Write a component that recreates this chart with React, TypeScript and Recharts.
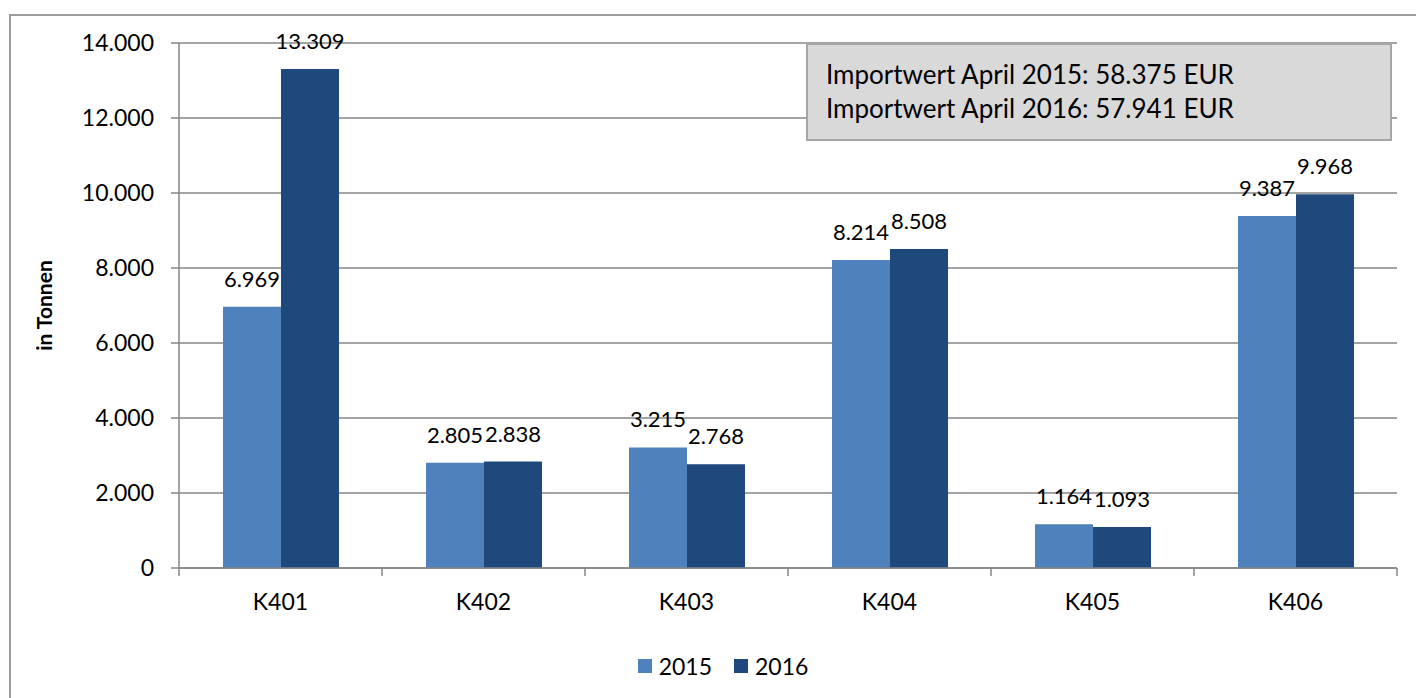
import { BarChart, Bar, XAxis, YAxis, CartesianGrid, LabelList } from 'recharts';

const CATEGORIES = ['K401', 'K402', 'K403', 'K404', 'K405', 'K406'];
const VALUES_2015 = [6969, 2805, 3215, 8214, 1164, 9387];
const VALUES_2016 = [13309, 2838, 2768, 8508, 1093, 9968];
const Y_TICKS = [0, 2000, 4000, 6000, 8000, 10000, 12000, 14000];
const SERIES = [
  { key: 'y2015', name: '2015', color: '#4F81BD' },
  { key: 'y2016', name: '2016', color: '#1F497D' },
];
const NOTE_LINES = ['Importwert April 2015: 58.375 EUR', 'Importwert April 2016: 57.941 EUR'];

const data = CATEGORIES.map((name, i) => ({ name, y2015: VALUES_2015[i], y2016: VALUES_2016[i] }));

const FONT = 'Lato, "Noto Sans", sans-serif';
const AXIS = '#868686';
const PLOT_W = 1416 - 179 - 19;

// German thousands separator: 13309 -> 13.309
function fmt(v: number): string {
  return String(v).replace(/\B(?=(\d{3})+(?!\d))/g, '.');
}

function BarValue(props: any) {
  const { x, y, width, value } = props;
  return (
    <text x={x + width / 2} y={y - 20} textAnchor="middle" fontSize={22} fill="#000" fontFamily={FONT}>
      {fmt(value)}
    </text>
  );
}

// category label plus Excel-style tick marks at the band edges
function CategoryTick(props: any) {
  const { x, y, payload, index } = props;
  const half = payload?.offset || PLOT_W / CATEGORIES.length / 2;
  const last = index === CATEGORIES.length - 1;
  return (
    <g>
      <line x1={x - half} x2={x - half} y1={y} y2={y + 8} stroke={AXIS} strokeWidth={1.5} />
      {last && <line x1={x + half} x2={x + half} y1={y} y2={y + 8} stroke={AXIS} strokeWidth={1.5} />}
      <text x={x} y={y + 42} textAnchor="middle" fontSize={23} fill="#000" fontFamily={FONT}>
        {payload.value}
      </text>
    </g>
  );
}

export default function App() {
  return (
    <div style={{ position: 'relative', width: 1416, height: 698, overflow: 'hidden', background: '#fff' }}>
      <style>{'body{margin:0;overflow:hidden}'}</style>
      <div
        style={{
          position: 'absolute', left: 9, top: 14, width: 1440, height: 720,
          border: '2px solid #9c9c9c', boxSizing: 'border-box',
        }}
      />
      <div style={{ position: 'absolute', left: 0, top: 0 }}>
        <BarChart
          width={1416}
          height={698}
          data={data}
          margin={{ top: 43, right: 19, bottom: 70, left: 0 }}
          barGap={0}
          barSize={58}
        >
          <CartesianGrid vertical={false} stroke={AXIS} strokeWidth={1.3} />
          <XAxis
            dataKey="name"
            height={60}
            interval={0}
            tickLine={false}
            tickSize={0}
            tickMargin={0}
            axisLine={{ stroke: AXIS, strokeWidth: 1.5 }}
            tick={<CategoryTick />}
          />
          <YAxis
            width={179}
            domain={[0, 14000]}
            ticks={Y_TICKS}
            interval={0}
            tickSize={8}
            tickMargin={17}
            tickFormatter={fmt}
            axisLine={{ stroke: AXIS, strokeWidth: 1.5 }}
            tickLine={{ stroke: AXIS, strokeWidth: 1.5 }}
            tick={{ fontSize: 23, fill: '#000', fontFamily: FONT }}
            label={{
              value: 'in Tonnen', angle: -90, position: 'insideLeft', offset: 45,
              style: { fontSize: 21, fontWeight: 700, fill: '#000', fontFamily: FONT, textAnchor: 'middle' },
            }}
          />
          {SERIES.map(s => (
            <Bar key={s.key} dataKey={s.key} name={s.name} fill={s.color} isAnimationActive={false}>
              <LabelList dataKey={s.key} content={<BarValue />} />
            </Bar>
          ))}
        </BarChart>
      </div>

      <div
        style={{
          position: 'absolute', left: 806, top: 43, width: 586, height: 98, boxSizing: 'border-box',
          background: '#D9D9D9', border: '2px solid #A6A6A6', padding: '12px 0 0 18px',
          fontFamily: FONT, fontSize: 26, lineHeight: '34px', color: '#000',
        }}
      >
        {NOTE_LINES.map(l => (
          <div key={l}>{l}</div>
        ))}
      </div>

      <div
        style={{
          position: 'absolute', left: 0, width: 1416, top: 652, display: 'flex', justifyContent: 'center',
          paddingLeft: 30, boxSizing: 'border-box', gap: 22, fontFamily: FONT, fontSize: 23, color: '#000',
        }}
      >
        {SERIES.map(s => (
          <span key={s.key} style={{ display: 'flex', alignItems: 'center', gap: 7 }}>
            <span style={{ width: 14, height: 14, background: s.color, display: 'inline-block' }} />
            <span>{s.name}</span>
          </span>
        ))}
      </div>
    </div>
  );
}
